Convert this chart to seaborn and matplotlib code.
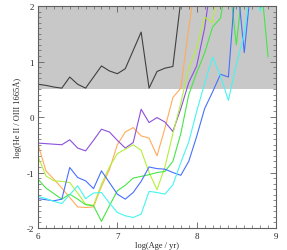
import numpy as np
import pandas as pd
import matplotlib
matplotlib.use("Agg")
import matplotlib.pyplot as plt
import seaborn as sns
from matplotlib.ticker import MultipleLocator

# log(Age/yr) grid
age = [6.0, 6.1, 6.2, 6.3, 6.4, 6.5, 6.6, 6.7, 6.8, 6.9,
       7.0, 7.1, 7.2, 7.3, 7.4, 7.5, 7.6, 7.7, 7.8, 7.9,
       8.0, 8.1, 8.2, 8.3, 8.4, 8.5, 8.6, 8.7, 8.8, 8.9]

black = [0.59, 0.57, 0.54, 0.52, 0.72, 0.59, 0.52, 0.72, 0.92, 0.83,
         0.78, 0.87, 1.20, 1.53, 0.52, 0.82, 0.88, 0.91, 2.10, 2.60]
orange = [-0.49, -0.97, -1.12, -1.28, -1.45, -1.62, -1.63, -1.62, -1.25, -0.95,
          -0.50, -0.27, -0.19, -0.34, -0.38, -0.70, -0.20, 0.35, 0.52, 1.60,
          2.60]
purple = [-0.47, -0.48, -0.49, -0.50, -0.41, -0.56, -0.61, -0.42, -0.22, -0.27,
          -0.42, -0.56, -0.46, 0.14, -0.10, -0.01, -0.09, -0.26, 0.15, 0.62,
          0.92, 1.60, 2.60]
yellowgreen = [-0.71, -1.06, -1.15, -1.16, -1.18, -1.37, -1.57, -1.59, -1.21, -0.90,
               -0.66, -0.58, -0.50, -0.60, -1.00, -1.31, -0.90, -0.30, 0.25, 0.88,
               1.25, 1.80, 1.70, 2.60]
green = [-1.12, -1.28, -1.38, -1.48, -1.39, -1.48, -1.58, -1.60, -1.88, -1.60,
         -1.33, -1.23, -1.10, -1.07, -1.04, -1.00, -0.98, -0.80, -0.30, 0.40,
         0.80, 1.15, 1.62, 1.78, 2.60, 1.30, 2.60, 2.60, 2.60, 1.08]
blue = [-1.47, -1.49, -1.51, -1.48, -0.91, -1.09, -1.15, -1.29, -0.97, -1.18,
        -1.39, -1.48, -1.36, -1.16, -0.90, -0.93, -0.94, -1.00, -1.05, -0.80,
        -0.35, 0.15, 0.45, 0.77, 0.72, 2.60, 1.16, 2.60]
cyan = [-1.43, -1.47, -1.52, -1.56, -1.40, -1.24, -1.47, -1.37, -1.36, -1.55,
        -1.72, -1.78, -1.81, -1.75, -1.34, -1.36, -1.39, -1.22, -0.82, -0.45,
        0.10, 0.60, 1.08, 0.74, 0.30, 0.95, 1.50, 2.60, 1.90, 2.60]

series = {"black": black, "orange": orange, "purple": purple,
          "yellowgreen": yellowgreen, "green": green, "blue": blue, "cyan": cyan}
colors = {"black": "#404040", "orange": "#ffac5a", "purple": "#8c50dc",
          "yellowgreen": "#b4f03c", "green": "#46e646", "blue": "#4670ff",
          "cyan": "#46f5f0"}

rows = []
for name, vals in series.items():
    for a, v in zip(age, vals):
        rows.append({"age": a, "ratio": v, "model": name})
df = pd.DataFrame(rows)

sns.set_style("ticks")
plt.rcParams["font.family"] = ["Liberation Serif", "DejaVu Serif"]
plt.rcParams["axes.unicode_minus"] = False

fig = plt.figure(figsize=(2.87, 2.51), dpi=100)
ax = fig.add_axes([0.1324, 0.0876, 0.8293, 0.8845])

ax.axhspan(0.5, 2.0, color="#c8c8c8", lw=0, zorder=0)

sns.lineplot(data=df, x="age", y="ratio", hue="model", palette=colors,
             hue_order=list(series.keys()), sort=False, estimator=None,
             lw=0.8, legend=False, ax=ax)

ax.set_xlim(6, 9)
ax.set_ylim(-2, 2)
ax.xaxis.set_major_locator(MultipleLocator(1))
ax.xaxis.set_minor_locator(MultipleLocator(0.1))
ax.yaxis.set_major_locator(MultipleLocator(1))
ax.yaxis.set_minor_locator(MultipleLocator(0.1))
ax.tick_params(which="both", direction="in", top=True, right=True,
               color="#606060", labelsize=6.5)
ax.tick_params(which="major", length=4, width=0.6, pad=3)
ax.tick_params(which="minor", length=2, width=0.5)
for s in ax.spines.values():
    s.set_color("#606060")
    s.set_linewidth(0.8)

ax.set_xlabel("log(Age / yr)", fontsize=6, labelpad=0.5)
ax.set_ylabel("log(He II / OIII 1665Å)", fontsize=6, labelpad=3)

fig.savefig("out.png", dpi=100)
